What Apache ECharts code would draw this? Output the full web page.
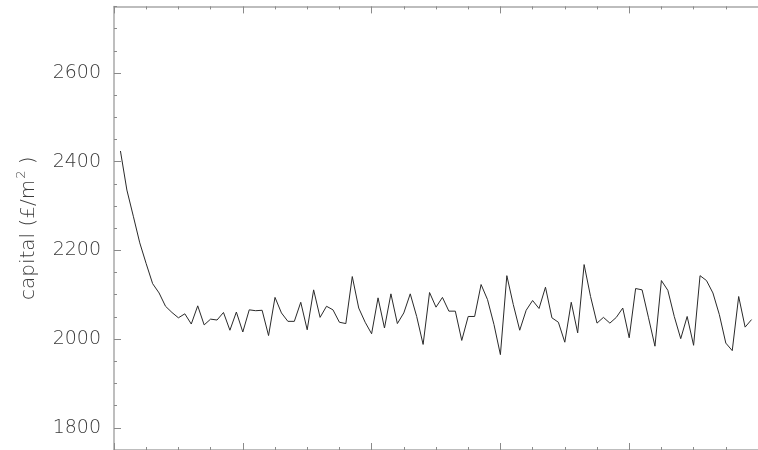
<!DOCTYPE html>
<html>
<head>
<meta charset="utf-8">
<script src="https://cdn.jsdelivr.net/npm/echarts@6/dist/echarts.min.js"></script>
<style>
html,body{margin:0;padding:0;background:#fff;}
#chart{width:758px;height:450px;}
</style>
</head>
<body>
<div id="chart"></div>
<script>
const steps = [1,2,3,4,5,6,7,8,9,10,11,12,13,14,15,16,17,18,19,20,21,22,23,24,25,26,27,28,29,30,31,32,33,34,35,36,37,38,39,40,41,42,43,44,45,46,47,48,49,50,51,52,53,54,55,56,57,58,59,60,61,62,63,64,65,66,67,68,69,70,71,72,73,74,75,76,77,78,79,80,81,82,83,84,85,86,87,88,89,90,91,92,93,94,95,96,97,98,99];
const capital = [2424,2336,2277,2217,2170,2125,2104,2074,2060,2048,2057,2034,2075,2032,2045,2043,2060,2020,2061,2016,2066,2064,2065,2008,2094,2059,2040,2040,2083,2021,2111,2049,2074,2066,2038,2035,2141,2070,2038,2012,2093,2025,2102,2035,2059,2102,2051,1988,2105,2072,2094,2063,2063,1997,2051,2051,2123,2089,2033,1965,2143,2078,2020,2065,2087,2069,2117,2048,2038,1993,2083,2014,2168,2096,2036,2049,2036,2049,2070,2003,2114,2111,2048,1984,2132,2110,2051,2001,2051,1986,2143,2132,2104,2055,1991,1974,2096,2027,2044];
const yTickLabels = [1800,2000,2200,2400,2600];
const yMin = 1750, yMax = 2750;
const xMin = 0, xMax = 100;

const axisGrey = '#a8a8a8';
const tickGrey = '#8a8a8a';
const textColor = '#3a3a3a';
const font = 'DejaVu Sans';

function xAxisDef(pos){
  return {
    type:'value', position:pos, min:xMin, max:xMax, interval:20,
    axisLine:{show:true, onZero:false, lineStyle:{color:axisGrey, width:1.5}},
    axisTick:{show:true, inside:true, length:7, lineStyle:{color:tickGrey, width:1}},
    minorTick:{show:true, splitNumber:4, length:3, lineStyle:{color:tickGrey, width:1}},
    axisLabel:{show:false},
    splitLine:{show:false}, minorSplitLine:{show:false}
  };
}

const chart = echarts.init(document.getElementById('chart'), null, {renderer:'canvas'});
chart.setOption({
  animation:false,
  backgroundColor:'#fff',
  grid:{left:114, top:6.4, width:651.5, height:444.3, containLabel:false},
  xAxis:[xAxisDef('bottom'), xAxisDef('top')],
  yAxis:[
    {
      type:'value', position:'left', min:yMin, max:yMax, interval:50,
      axisLine:{show:true, onZero:false, lineStyle:{color:axisGrey, width:1.5}},
      axisTick:{show:true, inside:true, length:3, lineStyle:{color:tickGrey, width:1}},
      axisLabel:{show:false},
      splitLine:{show:false}
    },
    {
      type:'value', position:'left', min:yMin, max:yMax,
      axisLine:{show:false},
      axisTick:{show:true, inside:true, length:7, customValues:yTickLabels, lineStyle:{color:tickGrey, width:1}},
      axisLabel:{show:true, customValues:yTickLabels, margin:13, color:textColor, fontFamily:font, fontWeight:200, fontSize:19,
        formatter:function(v){return String(v);}},
      splitLine:{show:false},
      name:'{a|capital (£/m}{sup|2}{a| )}',
      nameLocation:'middle', nameGap:72, nameRotate:90,
      nameTextStyle:{
        fontFamily:font, fontWeight:200, fontSize:20, color:textColor,
        rich:{
          a:{color:textColor, fontFamily:font, fontWeight:200, fontSize:20},
          sup:{color:textColor, fontFamily:font, fontWeight:200, fontSize:13, padding:[0,0,14,1]}
        }
      }
    }
  ],
  series:[{
    type:'line', xAxisIndex:0, yAxisIndex:0,
    data: steps.map((s,i)=>[s, capital[i]]),
    showSymbol:false, symbol:'none',
    lineStyle:{color:'#2a2a2a', width:1},
    clip:true
  }]
});
</script>
</body>
</html>
